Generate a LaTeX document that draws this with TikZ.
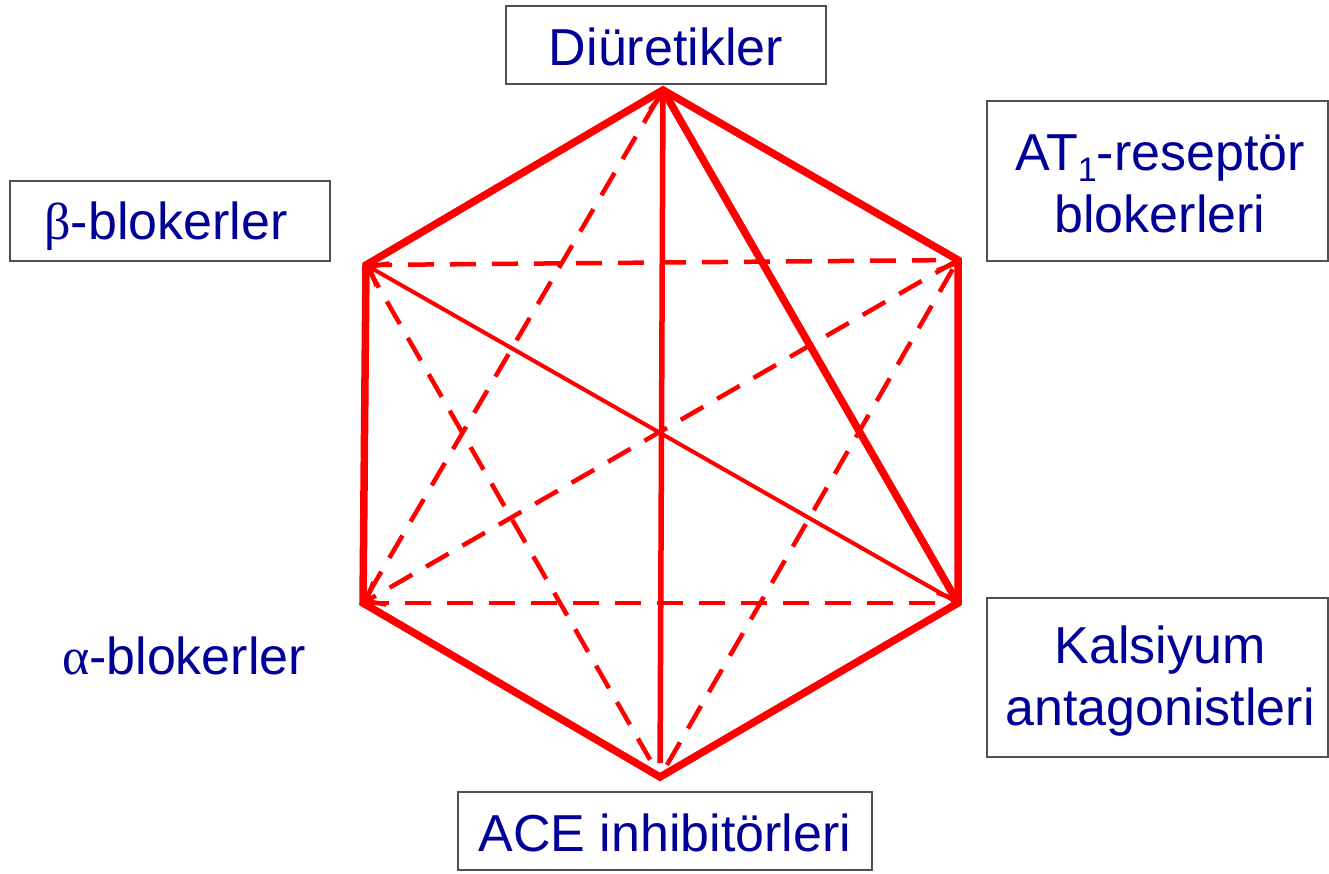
\documentclass[tikz,border=0pt]{standalone}
\usepackage{fontspec}
\setmainfont{Liberation Sans}
\newfontfamily\greekf{Liberation Serif}
\usetikzlibrary{arrows.meta}
\definecolor{txtblue}{RGB}{0,0,153}
\definecolor{boxgray}{RGB}{80,80,80}
\definecolor{linered}{RGB}{255,0,0}
\newcommand{\mysub}[1]{\smash{\raisebox{-0.2em}{\fontsize{34}{34}\selectfont #1}}}
\tikzset{
  lbl/.style={text=txtblue, font=\fontsize{52}{62}\selectfont, align=center, inner sep=0pt},
  boxed/.style={draw=boxgray, line width=2pt},
  hexedge/.style={draw=linered, line width=7.5pt, line join=miter},
  thickline/.style={draw=linered, line width=7.5pt},
  midline/.style={draw=linered, line width=5.5pt},
  thinline/.style={draw=linered, line width=4pt},
  dashline/.style={draw=linered, line width=4.5pt, dash pattern=on 26pt off 16pt},
  tip/.style={-{Straight Barb[length=16pt,width=26pt,line width=4.5pt]}},
}
\begin{document}
\begin{tikzpicture}[x=1pt,y=-1pt]
\useasboundingbox (0,0) rectangle (1329,873);
% boxes
\draw[boxed] (506,6) rectangle (826,84);
\draw[boxed] (987,101) rectangle (1328,261);
\draw[boxed] (10,181) rectangle (330,261);
\draw[boxed] (987,598) rectangle (1328,757);
\draw[boxed] (458,792) rectangle (872,870);
% labels
\node[lbl] (diu) at (666,47) {Diüretikler};
\node[lbl] (at1) at (1160,184) {AT\mysub{1}-reseptör\\blokerleri};
\node[lbl] (beta) at (166,226) {{\greekf β}-blokerler};
\node[lbl] (alpha) at (184,656) {{\greekf α}-blokerler};
\node[lbl] (kal) at (1160,681) {Kalsiyum\\antagonistleri};
\node[lbl] (ace) at (665,833) {ACE inhibitörleri};
% vertices
\coordinate (T) at (663,90);
\coordinate (UR) at (958,260);
\coordinate (LR) at (958,603);
\coordinate (B) at (660,777);
\coordinate (LL) at (363,603);
\coordinate (UL) at (366,265);
% dashed lines
\draw[dashline, shorten >=22pt] (UL) -- (UR);
\draw[dashline] (LL) -- (LR);
\draw[dashline, shorten <=12pt] (T) -- (LL);
\draw[dashline, shorten >=20pt] (UL) -- (B);
\draw[dashline, tip] (UR) -- (LL);
\draw[dashline, tip, shorten <=14pt] (B) -- (UR);
% solid lines
\draw[thinline, tip] (LR) -- (UL);
\draw[midline, tip, shorten <=14pt] (B) -- (T);
\draw[thickline, tip] (T) -- (LR);
% hexagon
\draw[hexedge] (T) -- (UR) -- (LR) -- (B) -- (LL) -- (UL) -- cycle;
\end{tikzpicture}
\end{document}
